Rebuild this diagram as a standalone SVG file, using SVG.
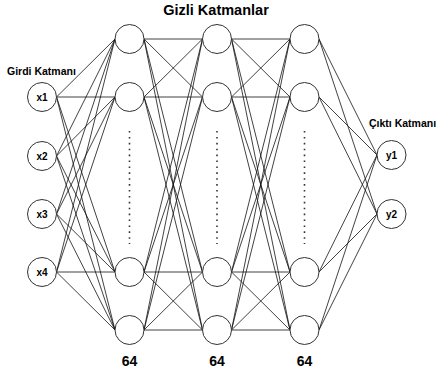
<svg xmlns="http://www.w3.org/2000/svg" width="437" height="373" viewBox="0 0 437 373">
  <style>
    .edge { stroke: #111; stroke-width: 0.8; fill: none; }
    .node circle { fill: #fff; stroke: #333; stroke-width: 1; }
    .node text { font-family: "Liberation Sans", Arial, sans-serif; font-weight: bold; font-size: 10px; text-anchor: middle; fill: #000; }
    .dots { stroke: #333; stroke-width: 1.6; stroke-dasharray: 1.6 4.3; }
    .label { font-family: "Liberation Sans", Arial, sans-serif; font-weight: bold; fill: #000; }
  </style>

  <!-- connectors -->
  <g id="connectors">
    <!-- input layer to hidden layer 1 -->
    <line class="edge" x1="56.5" y1="97" x2="115" y2="39"/>
    <line class="edge" x1="56.5" y1="97" x2="115" y2="97"/>
    <line class="edge" x1="56.5" y1="97" x2="115" y2="272"/>
    <line class="edge" x1="56.5" y1="97" x2="115" y2="330"/>
    <line class="edge" x1="56.5" y1="156" x2="115" y2="39"/>
    <line class="edge" x1="56.5" y1="156" x2="115" y2="97"/>
    <line class="edge" x1="56.5" y1="156" x2="115" y2="272"/>
    <line class="edge" x1="56.5" y1="156" x2="115" y2="330"/>
    <line class="edge" x1="56.5" y1="214" x2="115" y2="39"/>
    <line class="edge" x1="56.5" y1="214" x2="115" y2="97"/>
    <line class="edge" x1="56.5" y1="214" x2="115" y2="272"/>
    <line class="edge" x1="56.5" y1="214" x2="115" y2="330"/>
    <line class="edge" x1="56.5" y1="272" x2="115" y2="39"/>
    <line class="edge" x1="56.5" y1="272" x2="115" y2="97"/>
    <line class="edge" x1="56.5" y1="272" x2="115" y2="272"/>
    <line class="edge" x1="56.5" y1="272" x2="115" y2="330"/>
    <!-- hidden layer 1 to hidden layer 2 -->
    <line class="edge" x1="144" y1="39" x2="202.5" y2="39"/>
    <line class="edge" x1="144" y1="39" x2="202.5" y2="97"/>
    <line class="edge" x1="144" y1="39" x2="202.5" y2="272"/>
    <line class="edge" x1="144" y1="39" x2="202.5" y2="330"/>
    <line class="edge" x1="144" y1="97" x2="202.5" y2="39"/>
    <line class="edge" x1="144" y1="97" x2="202.5" y2="97"/>
    <line class="edge" x1="144" y1="97" x2="202.5" y2="272"/>
    <line class="edge" x1="144" y1="97" x2="202.5" y2="330"/>
    <line class="edge" x1="144" y1="272" x2="202.5" y2="39"/>
    <line class="edge" x1="144" y1="272" x2="202.5" y2="97"/>
    <line class="edge" x1="144" y1="272" x2="202.5" y2="272"/>
    <line class="edge" x1="144" y1="272" x2="202.5" y2="330"/>
    <line class="edge" x1="144" y1="330" x2="202.5" y2="39"/>
    <line class="edge" x1="144" y1="330" x2="202.5" y2="97"/>
    <line class="edge" x1="144" y1="330" x2="202.5" y2="272"/>
    <line class="edge" x1="144" y1="330" x2="202.5" y2="330"/>
    <!-- hidden layer 2 to hidden layer 3 -->
    <line class="edge" x1="231.5" y1="39" x2="290" y2="39"/>
    <line class="edge" x1="231.5" y1="39" x2="290" y2="97"/>
    <line class="edge" x1="231.5" y1="39" x2="290" y2="272"/>
    <line class="edge" x1="231.5" y1="39" x2="290" y2="330"/>
    <line class="edge" x1="231.5" y1="97" x2="290" y2="39"/>
    <line class="edge" x1="231.5" y1="97" x2="290" y2="97"/>
    <line class="edge" x1="231.5" y1="97" x2="290" y2="272"/>
    <line class="edge" x1="231.5" y1="97" x2="290" y2="330"/>
    <line class="edge" x1="231.5" y1="272" x2="290" y2="39"/>
    <line class="edge" x1="231.5" y1="272" x2="290" y2="97"/>
    <line class="edge" x1="231.5" y1="272" x2="290" y2="272"/>
    <line class="edge" x1="231.5" y1="272" x2="290" y2="330"/>
    <line class="edge" x1="231.5" y1="330" x2="290" y2="39"/>
    <line class="edge" x1="231.5" y1="330" x2="290" y2="97"/>
    <line class="edge" x1="231.5" y1="330" x2="290" y2="272"/>
    <line class="edge" x1="231.5" y1="330" x2="290" y2="330"/>
    <!-- hidden layer 3 to output layer -->
    <line class="edge" x1="319" y1="39" x2="377" y2="155"/>
    <line class="edge" x1="319" y1="39" x2="377" y2="214"/>
    <line class="edge" x1="319" y1="97" x2="377" y2="155"/>
    <line class="edge" x1="319" y1="97" x2="377" y2="214"/>
    <line class="edge" x1="319" y1="272" x2="377" y2="155"/>
    <line class="edge" x1="319" y1="272" x2="377" y2="214"/>
    <line class="edge" x1="319" y1="330" x2="377" y2="155"/>
    <line class="edge" x1="319" y1="330" x2="377" y2="214"/>
  </g>

  <!-- elided neurons in each hidden layer -->
  <g id="ellipsis">
    <line class="dots" x1="129.5" y1="131" x2="129.5" y2="244"/>
    <line class="dots" x1="217" y1="131" x2="217" y2="244"/>
    <line class="dots" x1="304.5" y1="131" x2="304.5" y2="244"/>
  </g>

  <!-- input layer -->
  <g id="x1" class="node"><circle cx="42" cy="97" r="14.5"/><text x="42" y="100.5">x1</text></g>
  <g id="x2" class="node"><circle cx="42" cy="156" r="14.5"/><text x="42" y="159.5">x2</text></g>
  <g id="x3" class="node"><circle cx="42" cy="214" r="14.5"/><text x="42" y="217.5">x3</text></g>
  <g id="x4" class="node"><circle cx="42" cy="272" r="14.5"/><text x="42" y="275.5">x4</text></g>

  <!-- hidden layer 1 -->
  <g id="h1-1" class="node"><circle cx="129.5" cy="39" r="14.5"/></g>
  <g id="h1-2" class="node"><circle cx="129.5" cy="97" r="14.5"/></g>
  <g id="h1-3" class="node"><circle cx="129.5" cy="272" r="14.5"/></g>
  <g id="h1-4" class="node"><circle cx="129.5" cy="330" r="14.5"/></g>

  <!-- hidden layer 2 -->
  <g id="h2-1" class="node"><circle cx="217" cy="39" r="14.5"/></g>
  <g id="h2-2" class="node"><circle cx="217" cy="97" r="14.5"/></g>
  <g id="h2-3" class="node"><circle cx="217" cy="272" r="14.5"/></g>
  <g id="h2-4" class="node"><circle cx="217" cy="330" r="14.5"/></g>

  <!-- hidden layer 3 -->
  <g id="h3-1" class="node"><circle cx="304.5" cy="39" r="14.5"/></g>
  <g id="h3-2" class="node"><circle cx="304.5" cy="97" r="14.5"/></g>
  <g id="h3-3" class="node"><circle cx="304.5" cy="272" r="14.5"/></g>
  <g id="h3-4" class="node"><circle cx="304.5" cy="330" r="14.5"/></g>

  <!-- output layer -->
  <g id="y1" class="node"><circle cx="391.5" cy="155" r="14.5"/><text x="391.5" y="158.5">y1</text></g>
  <g id="y2" class="node"><circle cx="391.5" cy="214" r="14.5"/><text x="391.5" y="217.5">y2</text></g>

  <!-- layer captions -->
  <g id="labels">
    <text class="label" x="216" y="15" font-size="14.5" text-anchor="middle">Gizli Katmanlar</text>
    <text class="label" x="7" y="75" font-size="10.5">Girdi Katmanı</text>
    <text class="label" x="369" y="127" font-size="10.5">Çıktı Katmanı</text>
    <text class="label" x="129.5" y="366" font-size="14" text-anchor="middle">64</text>
    <text class="label" x="217" y="366" font-size="14" text-anchor="middle">64</text>
    <text class="label" x="304.5" y="366" font-size="14" text-anchor="middle">64</text>
  </g>
</svg>
